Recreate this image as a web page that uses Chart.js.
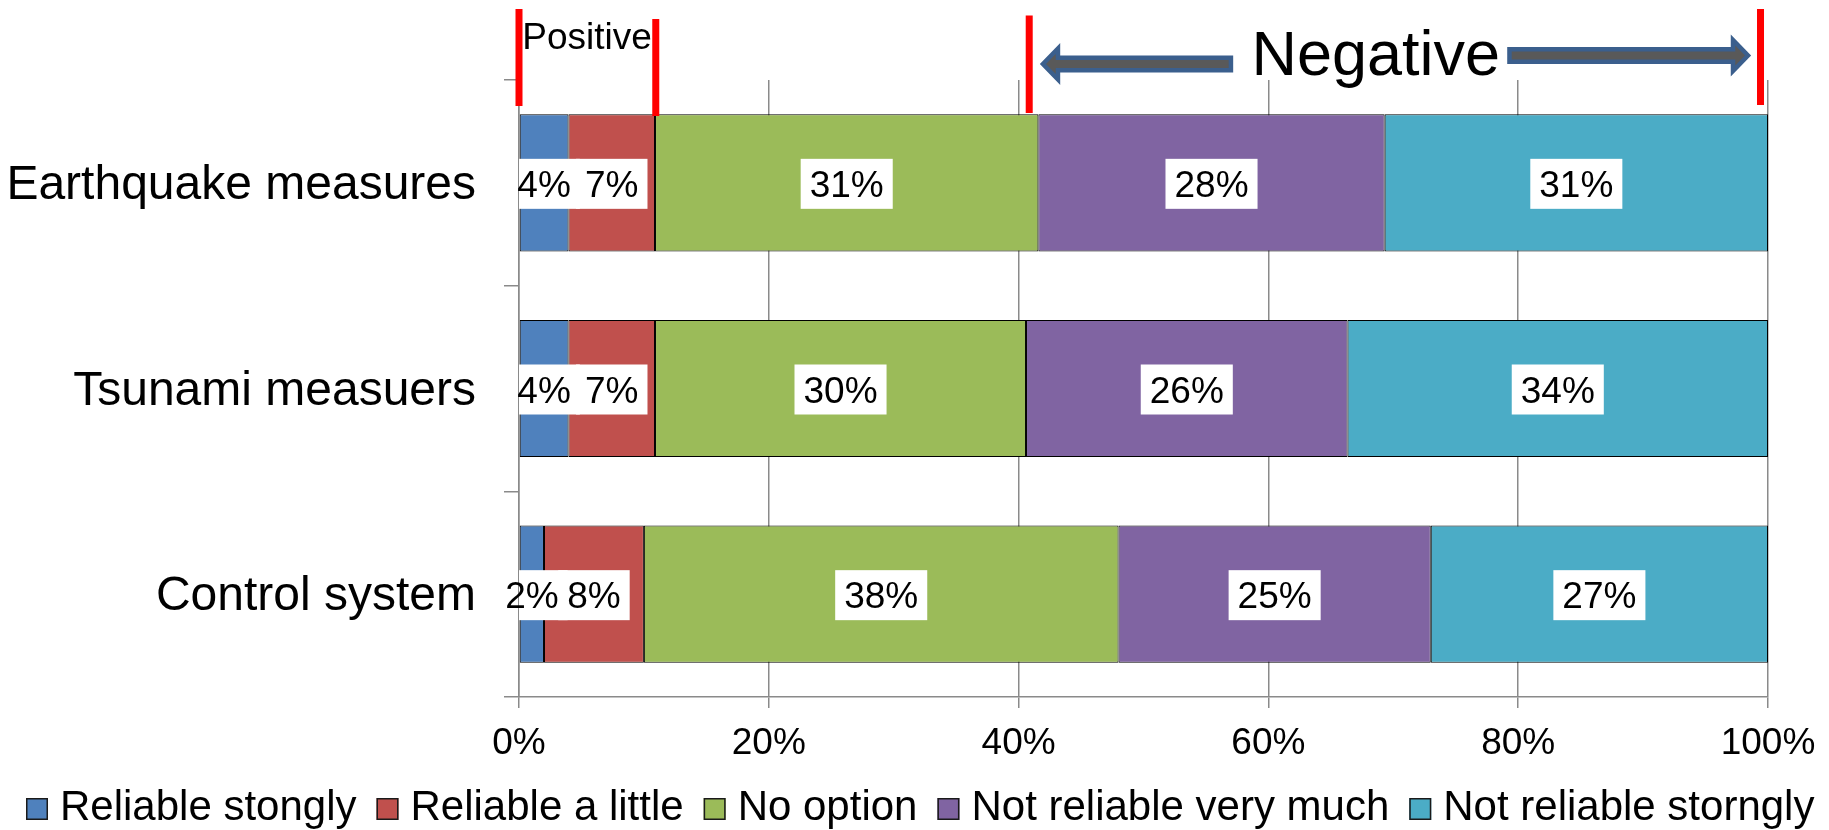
<!DOCTYPE html>
<html>
<head>
<meta charset="utf-8">
<script src="https://cdn.jsdelivr.net/npm/chart.js@4.4.1/dist/chart.umd.min.js"></script>
<style>
  html, body { margin: 0; padding: 0; background: #ffffff; }
  #wrap { width: 1829px; height: 830px; }
</style>
</head>
<body>
<div id="wrap"><canvas id="chart" width="1829" height="830"></canvas></div>
<script>
// Survey answers (percent of respondents) for each kind of measure
const categories = ['Earthquake measures', 'Tsunami measuers', 'Control system'];
const seriesNames = ['Reliable stongly', 'Reliable a little', 'No option', 'Not reliable very much', 'Not reliable storngly'];
const reliableStrongly = [4, 4, 2];
const reliableLittle   = [7, 7, 8];
const noOption         = [31, 30, 38];
const notVeryMuch      = [28, 26, 25];
const notStrongly      = [31, 34, 27];
const seriesColors = ['#4f81bd', '#c0504d', '#9bbb59', '#8064a2', '#4bacc6'];
const xTickValues = [0, 20, 40, 60, 80, 100];

const FONT = '"Liberation Sans", Arial, Helvetica, sans-serif';
const GRID = '#8a8a8a';

const seriesValues = [reliableStrongly, reliableLittle, noOption, notVeryMuch, notStrongly];
// 100% stacked: every row is scaled by its own total
const rowTotals = categories.map((_, i) => seriesValues.reduce((s, arr) => s + arr[i], 0));

const datasets = seriesValues.map((vals, k) => ({
  label: seriesNames[k],
  raw: vals,
  data: vals.map((v, i) => v / rowTotals[i] * 100),
  backgroundColor: seriesColors[k],
  borderColor: '#000000',
  borderWidth: 1,
  borderSkipped: false,
  categoryPercentage: 1,
  barPercentage: 0.667
}));

// Value labels on white boxes in the middle of each segment
const barLabels = {
  id: 'barLabels',
  afterDatasetsDraw(chart) {
    const { ctx, chartArea } = chart;
    ctx.save();
    ctx.font = '37px ' + FONT;
    chart.data.datasets.forEach((ds, di) => {
      chart.getDatasetMeta(di).data.forEach((bar, i) => {
        const text = ds.raw[i] + '%';
        const cx = (bar.x + bar.base) / 2;
        const cy = bar.y;
        const w = ctx.measureText(text).width + 18;
        const h = 50;
        ctx.save();
        ctx.beginPath();
        ctx.rect(chartArea.left, chartArea.top, chartArea.right - chartArea.left, chartArea.bottom - chartArea.top);
        ctx.clip();
        ctx.fillStyle = '#ffffff';
        ctx.fillRect(cx - w / 2, cy - h / 2 + 1, w, h);
        ctx.restore();
        ctx.fillStyle = '#000000';
        ctx.textAlign = 'center';
        ctx.textBaseline = 'middle';
        ctx.fillText(text, cx, cy + 4);
      });
    });
    ctx.restore();
  }
};

// Legend row under the axis: square swatch, short gap, series name
const legendRow = {
  id: 'legendRow',
  afterDraw(chart) {
    const { ctx } = chart;
    const size = 42, box = 22, gapText = 12, gapItem = 20, centre = 920, baseline = 820;
    ctx.save();
    ctx.font = size + 'px ' + FONT;
    const items = chart.data.datasets.map(ds => ({
      text: ds.label, color: ds.backgroundColor, w: ctx.measureText(ds.label).width
    }));
    const total = items.reduce((s, it) => s + box + gapText + it.w, 0) + gapItem * (items.length - 1);
    let x = Math.round(centre - total / 2);
    items.forEach(it => {
      ctx.fillStyle = it.color;
      ctx.fillRect(x, baseline - box, box, box);
      ctx.lineWidth = 1.5;
      ctx.strokeStyle = '#1a1a1a';
      ctx.strokeRect(x + 0.75, baseline - box + 0.75, box - 1.5, box - 1.5);
      ctx.fillStyle = '#000000';
      ctx.textAlign = 'left';
      ctx.textBaseline = 'alphabetic';
      ctx.fillText(it.text, x + box + gapText, baseline);
      x += box + gapText + it.w + gapItem;
    });
    ctx.restore();
  }
};

// Positive / Negative brackets above the plot
const brackets = {
  id: 'brackets',
  afterDraw(chart) {
    const { ctx } = chart;
    const x = chart.scales.x;
    const px = v => x.getPixelForValue(v);

    // red separators: [axis value, top px, bottom px]
    const separators = [[0, 9, 106], [10.95, 19, 116], [40.85, 15.5, 113], [99.4, 9, 105]];
    ctx.save();
    ctx.fillStyle = '#ff0000';
    separators.forEach(([v, t, b]) => ctx.fillRect(px(v) - 3.5, t, 7, b - t));

    const arrow = (xTail, xTip, yc) => {
      const dir = Math.sign(xTip - xTail);
      const shaft = 12.5, head = 31, headLen = 15;
      const xh = xTip - dir * headLen;
      ctx.beginPath();
      ctx.moveTo(xTail, yc - shaft / 2);
      ctx.lineTo(xh, yc - shaft / 2);
      ctx.lineTo(xh, yc - head / 2);
      ctx.lineTo(xTip, yc);
      ctx.lineTo(xh, yc + head / 2);
      ctx.lineTo(xh, yc + shaft / 2);
      ctx.lineTo(xTail, yc + shaft / 2);
      ctx.closePath();
      ctx.fillStyle = '#595959';
      ctx.fill();
      ctx.lineWidth = 4.5;
      ctx.lineJoin = 'miter';
      ctx.strokeStyle = '#3b5f8d';
      ctx.stroke();
    };
    arrow(px(57.0), px(41.95), 64);
    arrow(px(79.3), px(98.4), 55.5);

    ctx.fillStyle = '#000000';
    ctx.textAlign = 'center';
    ctx.textBaseline = 'alphabetic';
    ctx.font = '37px ' + FONT;
    ctx.fillText('Positive', px(5.45), 49);
    ctx.font = '63px ' + FONT;
    ctx.fillText('Negative', px(68.6), 75);
    ctx.restore();
  }
};

new Chart(document.getElementById('chart'), {
  type: 'bar',
  data: { labels: categories, datasets },
  options: {
    indexAxis: 'y',
    responsive: false,
    animation: false,
    layout: { padding: { top: 80, left: 0, right: 0, bottom: 60 } },
    scales: {
      x: {
        stacked: true,
        min: 0,
        max: 100,
        afterBuildTicks: s => { s.ticks = xTickValues.map(v => ({ value: v })); },
        afterFit: s => { s.height = 73; s.paddingRight = 61; },
        grid: { color: GRID, lineWidth: 1.5, tickLength: 11, drawTicks: true },
        border: { color: GRID, width: 1.5 },
        ticks: {
          color: '#000000',
          font: { family: FONT, size: 37 },
          padding: 14,
          maxRotation: 0,
          callback: v => v + '%'
        }
      },
      y: {
        stacked: true,
        afterFit: s => { s.width = 519; },
        grid: { offset: true, drawOnChartArea: false, color: GRID, lineWidth: 1.5, tickLength: 15 },
        border: { color: GRID, width: 1.5 },
        ticks: {
          color: '#000000',
          font: { family: FONT, size: 48 },
          padding: 28,
          labelOffset: 3
        }
      }
    },
    plugins: {
      legend: { display: false },
      tooltip: { enabled: false }
    }
  },
  plugins: [barLabels, legendRow, brackets]
});
</script>
</body>
</html>
